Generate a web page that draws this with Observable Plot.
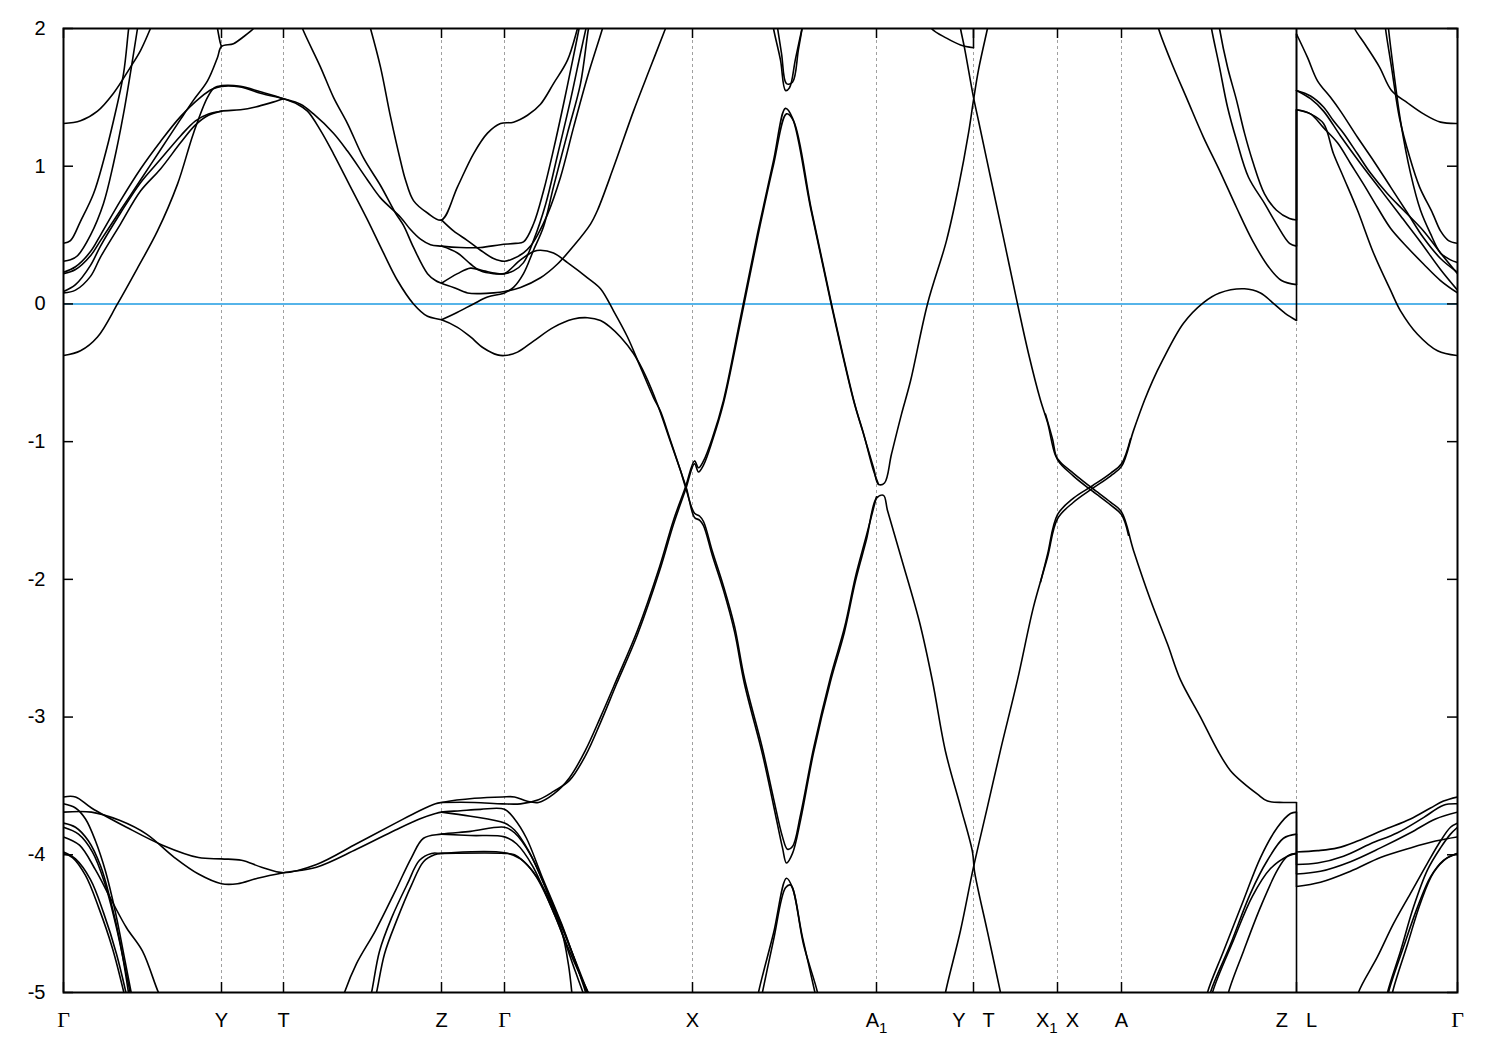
<!DOCTYPE html>
<html><head><meta charset="utf-8">
<script src="https://cdn.jsdelivr.net/npm/d3@7"></script>
<script src="https://cdn.jsdelivr.net/npm/@observablehq/plot@0.6"></script>
<style>body{margin:0;background:#fff}</style>
</head><body><div id="chart"></div>
<script>
// High-symmetry points along the k-path (path length units) and their labels
const kTicks = [0, 0.158, 0.220, 0.378, 0.441, 0.629, 0.813, 0.910, 0.994, 1.058, 1.233, 1.394];
const kLabels = ["Γ", "Y", "T", "Z", "Γ", "X", "A_1", "Y|T", "X_1|X", "A", "Z|L", "Γ"];
const eTicks = [-5, -4, -3, -2, -1, 0, 1, 2];
const fermiLevel = [0];

// Bands: [k, E (eV)]
const bandA = [[0,-0.375],[0.017,-0.34],[0.034,-0.24],[0.054,0.0],[0.074,0.26],[0.094,0.53],[0.114,0.87],[0.130,1.24],[0.144,1.50],[0.151,1.57],[0.158,1.585],[0.177,1.58],[0.197,1.54],[0.220,1.49],[0.234,1.45],[0.244,1.40],[0.257,1.26],[0.270,1.09],[0.287,0.85],[0.304,0.61],[0.320,0.37],[0.334,0.17],[0.350,0.0],[0.364,-0.09],[0.378,-0.115],[0.394,-0.17],[0.407,-0.24],[0.420,-0.32],[0.434,-0.37],[0.441,-0.375],[0.454,-0.35],[0.470,-0.27],[0.490,-0.17],[0.510,-0.11],[0.524,-0.10],[0.537,-0.12],[0.547,-0.17],[0.557,-0.24],[0.570,-0.36],[0.582,-0.52],[0.594,-0.73],[0.606,-0.98],[0.617,-1.21],[0.623,-1.34],[0.631,-1.55],[0.636,-1.57],[0.640,-1.61],[0.649,-1.83],[0.660,-2.08],[0.671,-2.38],[0.681,-2.76],[0.699,-3.27],[0.710,-3.64],[0.719,-3.95],[0.723,-4.06],[0.729,-3.99],[0.737,-3.75],[0.750,-3.26],[0.767,-2.74],[0.781,-2.38],[0.792,-2.01],[0.803,-1.71],[0.813,-1.41],[0.820,-1.39],[0.824,-1.50],[0.838,-1.85],[0.856,-2.31],[0.869,-2.74],[0.882,-3.25],[0.897,-3.65],[0.909,-3.98],[0.911,-4.12],[0.924,-4.56],[0.937,-5.0],[0.941,-5.15]];
const bandB = [[0,0.23],[0.012,0.27],[0.027,0.38],[0.037,0.50],[0.057,0.75],[0.077,0.98],[0.097,1.18],[0.117,1.36],[0.137,1.50],[0.149,1.56],[0.158,1.58],[0.177,1.575],[0.197,1.53],[0.220,1.49],[0.237,1.45],[0.250,1.38],[0.270,1.24],[0.284,1.11],[0.304,0.90],[0.317,0.77],[0.337,0.63],[0.347,0.54],[0.357,0.47],[0.367,0.43],[0.378,0.42],[0.397,0.41],[0.417,0.41],[0.437,0.43],[0.452,0.44],[0.460,0.45],[0.470,0.58],[0.480,0.82],[0.490,1.12],[0.500,1.45],[0.510,1.80],[0.517,2.05]];
const bandC = [[0,0.22],[0.012,0.25],[0.027,0.35],[0.037,0.46],[0.057,0.68],[0.077,0.90],[0.097,1.12],[0.117,1.34],[0.130,1.48],[0.144,1.62],[0.154,1.79],[0.158,1.87],[0.170,1.89],[0.180,1.94],[0.190,2.0],[0.195,2.05]];
const bandLc = [[0,0.09],[0.012,0.14],[0.027,0.28],[0.037,0.42],[0.057,0.66],[0.077,0.88],[0.097,1.05],[0.117,1.22],[0.132,1.33],[0.145,1.38],[0.158,1.40],[0.177,1.41],[0.192,1.43],[0.207,1.46],[0.220,1.49]];
const bandLd = [[0,0.08],[0.012,0.10],[0.027,0.20],[0.037,0.34],[0.057,0.58],[0.077,0.82],[0.097,0.98],[0.117,1.17],[0.132,1.30],[0.145,1.37],[0.158,1.40]];
const bandC5 = [[0,0.31],[0.007,0.32],[0.014,0.35],[0.027,0.50],[0.040,0.73],[0.050,1.02],[0.060,1.38],[0.069,1.77],[0.074,2.0],[0.076,2.1]];
const bandC6 = [[0,0.44],[0.007,0.46],[0.017,0.60],[0.030,0.80],[0.040,1.04],[0.050,1.33],[0.060,1.67],[0.065,1.99],[0.067,2.1]];
const bandC7 = [[0,1.31],[0.017,1.33],[0.034,1.40],[0.050,1.53],[0.067,1.72],[0.077,1.84],[0.087,2.0],[0.092,2.08]];
const bandTopY = [[0.153,2.05],[0.154,2.0],[0.157,1.89],[0.158,1.87]];
const bandTop302 = [[0.237,2.05],[0.239,2.0],[0.257,1.72],[0.270,1.50],[0.284,1.31],[0.300,1.06],[0.317,0.86],[0.332,0.66],[0.340,0.57],[0.350,0.41],[0.364,0.22],[0.372,0.17],[0.378,0.15],[0.390,0.12],[0.404,0.08],[0.417,0.075],[0.430,0.08],[0.441,0.09],[0.457,0.12],[0.477,0.19],[0.494,0.29],[0.510,0.42],[0.527,0.58],[0.534,0.68],[0.550,0.99],[0.570,1.40],[0.587,1.72],[0.602,2.0],[0.605,2.06]];
const bandU1 = [[0.305,2.05],[0.307,2.0],[0.317,1.72],[0.327,1.36],[0.337,1.04],[0.342,0.90],[0.350,0.75],[0.364,0.66],[0.378,0.61],[0.394,0.85],[0.410,1.09],[0.424,1.24],[0.437,1.31],[0.450,1.32],[0.464,1.37],[0.477,1.45],[0.490,1.60],[0.504,1.77],[0.514,2.0],[0.516,2.05]];
const bandU2 = [[0.378,0.61],[0.390,0.53],[0.404,0.46],[0.417,0.39],[0.430,0.33],[0.441,0.31],[0.450,0.33],[0.460,0.37],[0.467,0.42],[0.474,0.50],[0.484,0.65],[0.497,0.92],[0.510,1.28],[0.524,1.65],[0.539,2.0],[0.542,2.08]];
const bandU4 = [[0.378,0.42],[0.394,0.37],[0.407,0.29],[0.417,0.24],[0.430,0.22],[0.441,0.22],[0.450,0.24],[0.460,0.30],[0.470,0.46],[0.482,0.72],[0.494,1.08],[0.507,1.48],[0.517,1.82],[0.524,2.05]];
const bandU5 = [[0.378,0.15],[0.394,0.22],[0.407,0.26],[0.420,0.24],[0.434,0.22],[0.441,0.22],[0.457,0.32],[0.470,0.38],[0.477,0.39],[0.490,0.37],[0.504,0.30],[0.524,0.19],[0.537,0.11],[0.550,-0.05],[0.564,-0.24],[0.577,-0.46],[0.590,-0.68],[0.597,-0.78],[0.606,-0.97],[0.617,-1.21],[0.622,-1.33],[0.631,-1.52],[0.636,-1.54],[0.640,-1.58],[0.649,-1.80],[0.660,-2.05],[0.671,-2.34],[0.681,-2.72],[0.699,-3.23],[0.710,-3.59],[0.719,-3.87],[0.724,-3.96],[0.729,-3.94],[0.737,-3.71],[0.750,-3.23],[0.767,-2.71],[0.781,-2.35],[0.792,-1.98],[0.803,-1.68],[0.813,-1.40]];
const bandU7 = [[0.378,-0.115],[0.394,-0.06],[0.410,0.0],[0.424,0.05],[0.441,0.08],[0.450,0.12],[0.460,0.22],[0.470,0.39],[0.480,0.56],[0.490,0.85],[0.504,1.24],[0.517,1.60],[0.525,2.0],[0.527,2.06]];
const bandGX1 = [[0,-3.58],[0.012,-3.58],[0.028,-3.66],[0.063,-3.80],[0.099,-3.93],[0.135,-4.02],[0.158,-4.03],[0.178,-4.04],[0.198,-4.09],[0.220,-4.13],[0.253,-4.07],[0.293,-3.92],[0.332,-3.77],[0.356,-3.68],[0.372,-3.63],[0.378,-3.62],[0.411,-3.59],[0.439,-3.58],[0.451,-3.58],[0.463,-3.61],[0.475,-3.62],[0.490,-3.56],[0.506,-3.44],[0.522,-3.24],[0.537,-3.0],[0.553,-2.73],[0.574,-2.37],[0.596,-1.91],[0.610,-1.57],[0.622,-1.33],[0.631,-1.14],[0.635,-1.19],[0.640,-1.14],[0.649,-0.97],[0.660,-0.70],[0.677,-0.10],[0.694,0.51],[0.710,1.04],[0.722,1.42],[0.729,1.35],[0.747,0.70],[0.767,0.02],[0.790,-0.70],[0.799,-0.92],[0.810,-1.19],[0.815,-1.31],[0.821,-1.30],[0.828,-1.09],[0.838,-0.80],[0.847,-0.56],[0.864,0.0],[0.883,0.46],[0.895,0.85],[0.905,1.24],[0.910,1.48],[0.915,1.70],[0.924,2.0],[0.927,2.1]];
const bandGX2 = [[0.378,-3.62],[0.411,-3.62],[0.439,-3.63],[0.457,-3.63],[0.475,-3.60],[0.490,-3.54],[0.506,-3.46],[0.522,-3.28],[0.537,-3.04],[0.553,-2.76],[0.574,-2.40],[0.596,-1.94],[0.610,-1.60],[0.622,-1.35],[0.631,-1.16],[0.635,-1.22],[0.640,-1.17],[0.649,-0.99],[0.660,-0.72],[0.677,-0.13],[0.694,0.48],[0.710,1.01],[0.723,1.38],[0.730,1.33],[0.748,0.68],[0.768,0.0],[0.791,-0.72],[0.800,-0.94],[0.810,-1.21],[0.815,-1.31]];
const bandZG1 = [[0,-3.69],[0.028,-3.69],[0.056,-3.75],[0.083,-3.85],[0.111,-4.02],[0.135,-4.14],[0.158,-4.21],[0.174,-4.21],[0.194,-4.17],[0.220,-4.13],[0.253,-4.09],[0.293,-3.96],[0.332,-3.82],[0.356,-3.74],[0.372,-3.70],[0.378,-3.69],[0.397,-3.68],[0.417,-3.67],[0.441,-3.67],[0.451,-3.74],[0.463,-3.88],[0.478,-4.15],[0.498,-4.50],[0.514,-4.82],[0.526,-5.05]];
const bandZG2 = [[0.378,-3.69],[0.407,-3.72],[0.441,-3.77],[0.451,-3.82],[0.465,-3.97],[0.483,-4.25],[0.503,-4.60],[0.520,-4.95],[0.524,-5.05]];
const bandZG2b = [[0.279,-5.05],[0.281,-5.0],[0.293,-4.79],[0.312,-4.55],[0.332,-4.26],[0.348,-4.02],[0.360,-3.88],[0.378,-3.85],[0.407,-3.83],[0.441,-3.80],[0.451,-3.84],[0.467,-4.0],[0.487,-4.33],[0.507,-4.68],[0.527,-5.05]];
const bandZG3 = [[0.378,-3.85],[0.407,-3.86],[0.441,-3.87],[0.453,-3.92],[0.469,-4.08],[0.489,-4.40],[0.509,-4.75],[0.530,-5.08]];
const bandZG4 = [[0.306,-5.05],[0.308,-5.0],[0.316,-4.70],[0.328,-4.46],[0.344,-4.21],[0.356,-4.04],[0.368,-3.99],[0.378,-3.99],[0.441,-3.99],[0.451,-4.0],[0.467,-4.1],[0.482,-4.27],[0.498,-4.55],[0.505,-4.80],[0.509,-5.05]];
const bandZG5 = [[0.311,-5.05],[0.313,-5.0],[0.321,-4.72],[0.333,-4.48],[0.348,-4.22],[0.360,-4.05],[0.371,-4.0],[0.378,-3.99],[0.441,-3.985],[0.457,-4.03],[0.472,-4.15],[0.492,-4.45],[0.512,-4.85],[0.522,-5.05]];
const bandG3 = [[0,-3.63],[0.012,-3.66],[0.022,-3.74],[0.032,-3.90],[0.042,-4.12],[0.052,-4.42],[0.061,-4.75],[0.069,-5.05]];
const bandG4 = [[0,-3.77],[0.012,-3.80],[0.025,-3.90],[0.037,-4.08],[0.047,-4.33],[0.057,-4.65],[0.066,-5.05]];
const bandG5 = [[0,-3.80],[0.015,-3.85],[0.029,-3.98],[0.041,-4.20],[0.052,-4.50],[0.061,-4.80],[0.068,-5.05]];
const bandG6 = [[0,-3.87],[0.016,-3.93],[0.032,-4.11],[0.048,-4.33],[0.063,-4.53],[0.079,-4.70],[0.095,-5.0],[0.099,-5.05]];
const bandG7 = [[0,-3.98],[0.012,-4.03],[0.027,-4.18],[0.040,-4.42],[0.053,-4.72],[0.064,-5.05]];
const bandG8 = [[0,-3.99],[0.009,-4.02],[0.022,-4.15],[0.035,-4.38],[0.049,-4.68],[0.062,-5.05]];
const bandLV1 = [[0.693,-5.1],[0.695,-5.0],[0.710,-4.57],[0.723,-4.17],[0.729,-4.24],[0.740,-4.65],[0.754,-5.0],[0.756,-5.1]];
const bandLV2 = [[0.696,-5.1],[0.710,-4.62],[0.722,-4.24],[0.727,-4.22],[0.739,-4.60],[0.753,-5.05]];
const bandUV1 = [[0.708,2.1],[0.710,2.0],[0.717,1.77],[0.722,1.55],[0.726,1.57],[0.732,1.78],[0.740,2.05]];
const bandUV2 = [[0.712,2.1],[0.718,1.82],[0.723,1.60],[0.729,1.61],[0.735,1.85],[0.741,2.1]];
const bandQ = [[0.880,-5.1],[0.882,-5.0],[0.897,-4.55],[0.910,-4.09],[0.924,-3.65],[0.937,-3.24],[0.954,-2.73],[0.970,-2.20],[0.984,-1.84],[0.994,-1.56],[1.010,-1.44],[1.029,-1.34],[1.047,-1.25],[1.058,-1.18],[1.070,-0.92],[1.081,-0.70],[1.089,-0.56],[1.099,-0.41],[1.120,-0.14],[1.140,0.01],[1.156,0.08],[1.181,0.11],[1.197,0.08],[1.209,0.01],[1.222,-0.07],[1.233,-0.12],[1.233,1.41],[1.247,1.38],[1.260,1.31],[1.270,1.09],[1.280,0.92],[1.294,0.68],[1.310,0.37],[1.327,0.10],[1.337,-0.05],[1.354,-0.22],[1.374,-0.34],[1.394,-0.375]];
const bandQ2 = [[0.977,-2.02],[0.984,-1.82],[0.994,-1.53],[1.010,-1.41],[1.029,-1.32],[1.047,-1.23],[1.058,-1.16],[1.067,-0.98]];
const bandR = [[0.895,2.1],[0.897,2.0],[0.901,1.86],[0.910,1.50],[0.915,1.33],[0.927,0.92],[0.940,0.48],[0.954,0.0],[0.965,-0.36],[0.977,-0.70],[0.984,-0.86],[0.992,-1.10],[0.997,-1.15],[1.010,-1.23],[1.029,-1.34],[1.047,-1.44],[1.058,-1.51],[1.070,-1.79],[1.087,-2.15],[1.104,-2.47],[1.117,-2.73],[1.137,-3.0],[1.154,-3.24],[1.167,-3.39],[1.180,-3.48],[1.194,-3.56],[1.204,-3.61],[1.220,-3.62],[1.233,-3.62],[1.233,-3.98],[1.254,-3.97],[1.274,-3.95],[1.294,-3.90],[1.320,-3.82],[1.347,-3.74],[1.367,-3.66],[1.380,-3.61],[1.394,-3.58]];
const bandR2 = [[0.982,-0.80],[0.989,-0.98],[0.994,-1.13],[1.010,-1.25],[1.029,-1.36],[1.047,-1.46],[1.058,-1.53],[1.065,-1.68]];
const bandYT = [[0.862,2.1],[0.868,2.0],[0.883,1.93],[0.897,1.88],[0.910,1.86],[0.910,2.2]];
const bandAZ1 = [[1.092,2.1],[1.095,2.0],[1.107,1.77],[1.124,1.48],[1.140,1.21],[1.156,0.97],[1.173,0.70],[1.189,0.46],[1.205,0.27],[1.218,0.17],[1.233,0.14],[1.233,1.41],[1.247,1.38],[1.260,1.28],[1.274,1.17],[1.287,1.02],[1.300,0.87],[1.314,0.70],[1.327,0.55],[1.344,0.41],[1.360,0.29],[1.377,0.17],[1.394,0.08]];
const bandAZ2 = [[1.146,2.1],[1.148,2.0],[1.156,1.72],[1.164,1.43],[1.173,1.19],[1.185,0.92],[1.201,0.73],[1.213,0.58],[1.226,0.44],[1.233,0.42],[1.233,1.55],[1.247,1.51],[1.260,1.43],[1.270,1.33],[1.280,1.24],[1.294,1.09],[1.307,0.95],[1.324,0.80],[1.340,0.68],[1.360,0.53],[1.377,0.37],[1.394,0.22]];
const bandAZ3 = [[1.154,2.1],[1.156,2.0],[1.164,1.72],[1.173,1.48],[1.181,1.24],[1.189,1.04],[1.201,0.80],[1.213,0.68],[1.226,0.62],[1.233,0.61],[1.233,1.96],[1.244,1.79],[1.254,1.62],[1.267,1.50],[1.277,1.40],[1.294,1.21],[1.310,1.04],[1.327,0.85],[1.344,0.66],[1.360,0.48],[1.377,0.33],[1.394,0.23]];
const bandLB2 = [[1.233,2.3],[1.233,1.55],[1.247,1.49],[1.260,1.40],[1.277,1.22],[1.297,1.02],[1.317,0.83],[1.337,0.64],[1.357,0.45],[1.377,0.25],[1.394,0.10]];
const bandRt = [[1.287,2.08],[1.291,2.0],[1.302,1.88],[1.316,1.72],[1.328,1.55],[1.344,1.46],[1.360,1.38],[1.377,1.32],[1.394,1.31]];
const bandRs1 = [[1.321,2.08],[1.322,2.0],[1.328,1.72],[1.336,1.35],[1.346,1.07],[1.356,0.85],[1.369,0.66],[1.377,0.53],[1.385,0.46],[1.394,0.44]];
const bandRs2 = [[1.324,2.08],[1.325,2.0],[1.330,1.70],[1.337,1.33],[1.347,0.95],[1.357,0.68],[1.367,0.51],[1.377,0.37],[1.387,0.32],[1.394,0.30]];
const bandZR1 = [[1.142,-5.1],[1.144,-5.0],[1.160,-4.70],[1.180,-4.33],[1.197,-4.02],[1.214,-3.80],[1.227,-3.70],[1.233,-3.69],[1.233,-4.07],[1.254,-4.06],[1.280,-4.01],[1.307,-3.92],[1.334,-3.84],[1.360,-3.73],[1.380,-3.64],[1.394,-3.63]];
const bandZR2 = [[1.145,-5.1],[1.147,-5.0],[1.167,-4.65],[1.187,-4.28],[1.204,-4.04],[1.220,-3.88],[1.233,-3.85],[1.233,-4.14],[1.257,-4.12],[1.287,-4.05],[1.317,-3.95],[1.347,-3.84],[1.372,-3.74],[1.394,-3.69]];
const bandZR3 = [[1.147,-5.1],[1.149,-5.0],[1.170,-4.62],[1.189,-4.30],[1.207,-4.10],[1.224,-4.01],[1.233,-3.99],[1.233,-4.23],[1.257,-4.20],[1.287,-4.12],[1.317,-4.02],[1.347,-3.95],[1.372,-3.90],[1.394,-3.87]];
const bandZR4 = [[1.163,-5.1],[1.165,-5.0],[1.180,-4.70],[1.197,-4.38],[1.214,-4.11],[1.224,-4.01],[1.233,-3.99],[1.233,-5.5]];
const bandS1 = [[1.293,-5.1],[1.295,-5.0],[1.314,-4.74],[1.330,-4.50],[1.347,-4.28],[1.364,-4.06],[1.377,-3.90],[1.387,-3.80],[1.394,-3.77]];
const bandS2 = [[1.322,-5.1],[1.324,-5.0],[1.337,-4.70],[1.350,-4.38],[1.364,-4.11],[1.377,-3.95],[1.387,-3.85],[1.394,-3.80]];
const bandS3 = [[1.323,-5.1],[1.325,-5.0],[1.340,-4.67],[1.354,-4.38],[1.367,-4.16],[1.380,-4.04],[1.394,-3.99]];
const bandS4 = [[1.327,-5.1],[1.329,-5.0],[1.344,-4.65],[1.357,-4.35],[1.370,-4.13],[1.384,-4.02],[1.394,-3.99]];

const bands = [bandA, bandB, bandC, bandLc, bandLd, bandC5, bandC6, bandC7, bandTopY, bandTop302,
  bandU1, bandU2, bandU4, bandU5, bandU7, bandGX1, bandGX2, bandZG1, bandZG2, bandZG2b, bandZG3,
  bandZG4, bandZG5, bandG3, bandG4, bandG5, bandG6, bandG7, bandG8, bandLV1, bandLV2, bandUV1, bandUV2,
  bandQ, bandQ2, bandR, bandR2, bandYT, bandAZ1, bandAZ2, bandAZ3, bandLB2, bandRt, bandRs1, bandRs2,
  bandZR1, bandZR2, bandZR3, bandZR4, bandS1, bandS2, bandS3, bandS4];

// Split bands at path discontinuities (same k twice): smooth pieces + vertical jumps
const pts = [], jumps = [];
let seg = 0;
bands.forEach(b => {
  b.forEach((p, i) => {
    if (i > 0 && p[0] === b[i - 1][0]) {
      jumps.push({k: p[0], e1: b[i - 1][1], e2: p[1]});
      seg++;
    }
    pts.push({k: p[0], e: p[1], seg});
  });
  seg++;
});

const W = 1500, H = 1050, mL = 63, mR = 43, mT = 28, mB = 58;
const iw = W - mL - mR, ih = H - mT - mB;

const chart = Plot.plot({
  width: W, height: H,
  marginLeft: mL, marginRight: mR, marginTop: mT, marginBottom: mB,
  x: {domain: [0, 1.394]},
  y: {domain: [-5, 2]},
  style: {fontFamily: "'Liberation Sans', Arial, sans-serif", fontSize: "20px", color: "black", background: "white"},
  marks: [
    Plot.ruleX(kTicks.slice(1, -1), {stroke: "#a0a0a0", strokeWidth: 1, strokeDasharray: "3,3"}),
    Plot.ruleY(fermiLevel, {stroke: "#56b4e9", strokeWidth: 2}),
    Plot.line(pts, {x: "k", y: "e", z: "seg", stroke: "black", strokeWidth: 1.6, curve: "catmull-rom", clip: true}),
    Plot.link(jumps, {x1: "k", x2: "k", y1: "e1", y2: "e2", stroke: "black", strokeWidth: 1.6, clip: true}),
    Plot.ruleY(eTicks, {insetRight: iw - 10, stroke: "black", strokeWidth: 1.5}),
    Plot.ruleY(eTicks, {insetLeft: iw - 10, stroke: "black", strokeWidth: 1.5}),
    Plot.ruleX(kTicks, {insetBottom: ih - 10, stroke: "black", strokeWidth: 1.5}),
    Plot.ruleX(kTicks, {insetTop: ih - 10, stroke: "black", strokeWidth: 1.5}),
    Plot.frame({stroke: "black", strokeWidth: 2}),
    Plot.axisY({ticks: eTicks, tickSize: 0, tickPadding: 18, label: null, tickFormat: d => String(d)}),
    Plot.axisX({ticks: kTicks, tickSize: 0, tickPadding: 20, label: null, tickFormat: d => kLabels[kTicks.indexOf(d)]})
  ]
});

// Rich tick labels: serif Gamma, subscripts, paired labels at discontinuities
chart.querySelectorAll('g[aria-label="x-axis tick label"] text').forEach(t => {
  const lab = t.textContent;
  const sub = c => `<tspan dy="6" font-size="15">${c}</tspan>`;
  if (lab === "Γ") t.innerHTML = `<tspan font-family="'Liberation Serif','DejaVu Serif',serif" font-size="22">Γ</tspan>`;
  else if (lab === "A_1") t.innerHTML = `A${sub("1")}`;
  else if (lab === "Y|T") t.innerHTML = `Y<tspan dx="17">T</tspan>`;
  else if (lab === "X_1|X") t.innerHTML = `X${sub("1")}<tspan dy="-6" dx="8">X</tspan>`;
  else if (lab === "Z|L") t.innerHTML = `Z<tspan dx="18">L</tspan>`;
});

document.getElementById("chart").appendChild(chart);
</script>
</body></html>
